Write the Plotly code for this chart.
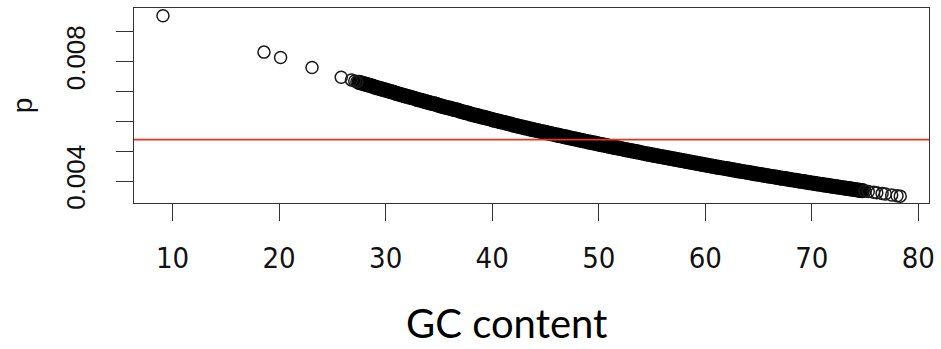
import plotly.graph_objects as go

# ---- data ----
gc_head = [9.10, 18.58, 20.14, 23.09, 25.83, 26.79, 27.10, 27.30]
p_head = [0.009537, 0.008319, 0.008138, 0.007802, 0.007480, 0.007389, 0.007350, 0.007330]

gc_band = [
    27.5, 27.75,
    28.0, 28.25, 28.5, 28.75, 29.0, 29.25, 29.5, 29.75,
    30.0, 30.25, 30.5, 30.75, 31.0, 31.25, 31.5, 31.75,
    32.0, 32.25, 32.5, 32.75, 33.0, 33.25, 33.5, 33.75,
    34.0, 34.25, 34.5, 34.75, 35.0, 35.25, 35.5, 35.75,
    36.0, 36.25, 36.5, 36.75, 37.0, 37.25, 37.5, 37.75,
    38.0, 38.25, 38.5, 38.75, 39.0, 39.25, 39.5, 39.75,
    40.0, 40.25, 40.5, 40.75, 41.0, 41.25, 41.5, 41.75,
    42.0, 42.25, 42.5, 42.75, 43.0, 43.25, 43.5, 43.75,
    44.0, 44.25, 44.5, 44.75, 45.0, 45.25, 45.5, 45.75,
    46.0, 46.25, 46.5, 46.75, 47.0, 47.25, 47.5, 47.75,
    48.0, 48.25, 48.5, 48.75, 49.0, 49.25, 49.5, 49.75,
    50.0, 50.25, 50.5, 50.75, 51.0, 51.25, 51.5, 51.75,
    52.0, 52.25, 52.5, 52.75, 53.0, 53.25, 53.5, 53.75,
    54.0, 54.25, 54.5, 54.75, 55.0, 55.25, 55.5, 55.75,
    56.0, 56.25, 56.5, 56.75, 57.0, 57.25, 57.5, 57.75,
    58.0, 58.25, 58.5, 58.75, 59.0, 59.25, 59.5, 59.75,
    60.0, 60.25, 60.5, 60.75, 61.0, 61.25, 61.5, 61.75,
    62.0, 62.25, 62.5, 62.75, 63.0, 63.25, 63.5, 63.75,
    64.0, 64.25, 64.5, 64.75, 65.0, 65.25, 65.5, 65.75,
    66.0, 66.25, 66.5, 66.75, 67.0, 67.25, 67.5, 67.75,
    68.0, 68.25, 68.5, 68.75, 69.0, 69.25, 69.5, 69.75,
    70.0, 70.25, 70.5, 70.75, 71.0, 71.25, 71.5, 71.75,
    72.0, 72.25, 72.5, 72.75, 73.0, 73.25, 73.5, 73.75,
    74.0, 74.25, 74.5, 74.75,
]
p_band = [
    0.007309, 0.007284,
    0.007258, 0.007232, 0.007207, 0.007182, 0.007146, 0.007121, 0.007096, 0.007071,
    0.007046, 0.007021, 0.006996, 0.006972, 0.006937, 0.006912, 0.006888, 0.006864,
    0.006839, 0.006815, 0.006791, 0.006767, 0.006733, 0.006710, 0.006686, 0.006662,
    0.006638, 0.006615, 0.006592, 0.006568, 0.006535, 0.006512, 0.006489, 0.006466,
    0.006443, 0.006420, 0.006398, 0.006375, 0.006342, 0.006320, 0.006297, 0.006275,
    0.006243, 0.006221, 0.006199, 0.006177, 0.006154, 0.006133, 0.006111, 0.006089,
    0.006057, 0.006036, 0.006015, 0.005993, 0.005972, 0.005951, 0.005929, 0.005908,
    0.005877, 0.005856, 0.005836, 0.005815, 0.005794, 0.005773, 0.005753, 0.005732,
    0.005712, 0.005692, 0.005671, 0.005651, 0.005631, 0.005611, 0.005591, 0.005571,
    0.005551, 0.005531, 0.005512, 0.005492, 0.005472, 0.005453, 0.005434, 0.005414,
    0.005395, 0.005376, 0.005357, 0.005337, 0.005318, 0.005299, 0.005280, 0.005262,
    0.005243, 0.005224, 0.005206, 0.005187, 0.005168, 0.005150, 0.005132, 0.005113,
    0.005095, 0.005077, 0.005059, 0.005041, 0.005023, 0.005005, 0.004987, 0.004970,
    0.004952, 0.004934, 0.004917, 0.004899, 0.004882, 0.004864, 0.004847, 0.004830,
    0.004812, 0.004795, 0.004778, 0.004761, 0.004744, 0.004727, 0.004710, 0.004694,
    0.004677, 0.004660, 0.004644, 0.004627, 0.004611, 0.004594, 0.004578, 0.004562,
    0.004545, 0.004529, 0.004513, 0.004497, 0.004481, 0.004465, 0.004449, 0.004433,
    0.004417, 0.004402, 0.004386, 0.004370, 0.004355, 0.004339, 0.004324, 0.004308,
    0.004293, 0.004278, 0.004262, 0.004247, 0.004232, 0.004217, 0.004202, 0.004187,
    0.004172, 0.004157, 0.004142, 0.004128, 0.004113, 0.004098, 0.004084, 0.004069,
    0.004055, 0.004040, 0.004026, 0.004011, 0.003997, 0.003983, 0.003969, 0.003955,
    0.003940, 0.003926, 0.003912, 0.003898, 0.003884, 0.003871, 0.003857, 0.003843,
    0.003829, 0.003816, 0.003802, 0.003789, 0.003775, 0.003762, 0.003748, 0.003735,
    0.003722, 0.003708, 0.003695, 0.003682,
]

gc_tail = [75.0, 75.3, 75.8, 76.1, 76.6, 76.9, 77.5, 78.0, 78.3]
p_tail = [0.003669, 0.003653, 0.003627, 0.003612, 0.003586, 0.003571, 0.003540, 0.003515, 0.003500]

threshold = 0.00539

x_ticks = [10, 20, 30, 40, 50, 60, 70, 80]
y_ticks = [0.004, 0.005, 0.006, 0.007, 0.008, 0.009]
y_ticktext = ["0.004", "", "", "", "0.008", ""]

# ---- figure ----
fig = go.Figure()
marker_style = dict(symbol="circle-open", size=12, color="#1a1a1a", line=dict(width=1.5, color="#1a1a1a"))

fig.add_trace(go.Scatter(x=gc_band, y=p_band, mode="markers",
                         marker=dict(symbol="circle-open", size=12, color="#000",
                                     line=dict(width=3.2, color="#000")),
                         showlegend=False, hoverinfo="skip"))
fig.add_trace(go.Scatter(x=gc_head + gc_tail, y=p_head + p_tail, mode="markers",
                         marker=marker_style, showlegend=False, hoverinfo="skip"))

fig.add_shape(type="line", xref="paper", yref="y", x0=0, x1=1, y0=threshold, y1=threshold,
              line=dict(color="#f0301e", width=1.6), layer="above")

axis_common = dict(showline=True, linecolor="#333", linewidth=1.3, mirror=True,
                   ticks="outside", ticklen=17, tickwidth=1.3, tickcolor="#333",
                   showgrid=False, zeroline=False)

fig.update_xaxes(range=[6.38, 81.0], tickvals=x_ticks, ticktext=[str(v) for v in x_ticks],
                 tickfont=dict(family="Liberation Sans Narrow, DejaVu Sans Condensed, Liberation Sans, Arial",
                               size=29, color="#111"),
                 ticklabelstandoff=12, **axis_common)
fig.update_yaxes(range=[0.00327, 0.009795], tickvals=y_ticks, ticktext=y_ticktext, tickangle=-90,
                 tickfont=dict(family="Liberation Sans, Arial", size=26, color="#111"),
                 ticklabelstandoff=20, **axis_common)

fig.add_annotation(text="p", xref="paper", yref="paper", x=-0.1398, y=0.50,
                   xanchor="center", yanchor="middle", textangle=-90, showarrow=False,
                   font=dict(family="Liberation Sans, Arial", size=28, color="#111"))
fig.add_annotation(text="GC content", xref="paper", yref="paper", x=0.468, y=-0.615,
                   xanchor="center", yanchor="middle", showarrow=False, borderpad=0,
                   font=dict(family="Lato, Open Sans, sans-serif", size=40, color="#000"))

fig.update_layout(width=941, height=349, margin=dict(l=134, r=6, t=8, b=146),
                  paper_bgcolor="white", plot_bgcolor="white")

fig.write_html("out.html")
